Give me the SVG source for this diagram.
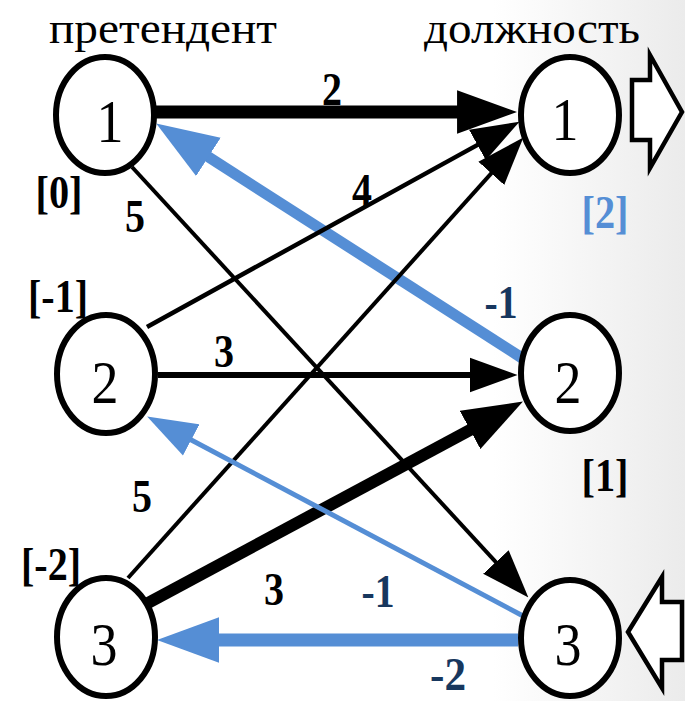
<svg xmlns="http://www.w3.org/2000/svg" width="685" height="701" viewBox="0 0 685 701">
<defs>
<linearGradient id="bg" x1="0" y1="0" x2="1" y2="0">
<stop offset="0" stop-color="#ffffff"/>
<stop offset="0.72" stop-color="#ffffff"/>
<stop offset="1" stop-color="#ebebeb"/>
</linearGradient>
<marker id="bigK" markerUnits="userSpaceOnUse" markerWidth="60" markerHeight="44" refX="28" refY="21" orient="auto" viewBox="0 0 58 42">
<path d="M0,0 L58,21 L0,42 z" fill="#000"/>
</marker>
<marker id="smallK" markerUnits="userSpaceOnUse" markerWidth="48" markerHeight="36" refX="22" refY="17" orient="auto" viewBox="0 0 47 34">
<path d="M0,0 L47,17 L0,34 z" fill="#000"/>
</marker>
<marker id="bigB" markerUnits="userSpaceOnUse" markerWidth="62" markerHeight="46" refX="30" refY="22" orient="auto" viewBox="0 0 60 44">
<path d="M0,0 L60,22 L0,44 z" fill="#558ed5"/>
</marker>
<marker id="smallB" markerUnits="userSpaceOnUse" markerWidth="50" markerHeight="36" refX="23" refY="17" orient="auto" viewBox="0 0 48 34">
<path d="M0,0 L48,17 L0,34 z" fill="#558ed5"/>
</marker>
</defs>
<style>
text{font-family:'Liberation Serif','Times New Roman',serif}
.node ellipse{fill:#fff;stroke:#000;stroke-width:6}
.num{font-size:62px;text-anchor:middle;fill:#000}
.title{font-size:44px;text-anchor:middle;fill:#000}
.lbl{font-size:46px;font-weight:bold;text-anchor:middle;fill:#000}
.neg{fill:#17375e}
.pot{font-size:46px;font-weight:bold;text-anchor:middle;fill:#000}
.blue{fill:#558ed5}
.k{stroke:#000;fill:none}
.b{stroke:#558ed5;fill:none}
.blk{fill:#fff;stroke:#000;stroke-width:4.5;stroke-linejoin:miter}
</style>
<rect x="0" y="0" width="685" height="701" fill="url(#bg)"/>

<g id="titles">
<text class="title" x="163" y="43" textLength="228" lengthAdjust="spacingAndGlyphs">претендент</text>
<text class="title" x="532" y="43" textLength="216" lengthAdjust="spacingAndGlyphs">должность</text>
</g>

<g id="connectors">
<path class="b" d="M522,358 L182.3,140.2" stroke-width="11" marker-end="url(#bigB)"/>
<path class="b" d="M518,640 L188,640" stroke-width="13" marker-end="url(#bigB)"/>
<path class="k" d="M155,112 L486,112" stroke-width="13" marker-end="url(#bigK)"/>
<path class="k" d="M132,167 L511.1,578.6" stroke-width="4" marker-end="url(#smallK)"/>
<path class="k" d="M147,327 L497.1,134.1" stroke-width="4.5" marker-end="url(#smallK)"/>
<path class="k" d="M128,578 L506.3,156.6" stroke-width="4" marker-end="url(#smallK)"/>
<path class="k" d="M158,375 L492,375" stroke-width="6" marker-end="url(#smallK)"/>
<path class="k" d="M148,603 L495.6,416.2" stroke-width="12" marker-end="url(#bigK)"/>
<path class="b" d="M525,617 L170.1,428.7" stroke-width="5" marker-end="url(#smallB)"/>
</g>

<g id="edge-labels">
<text class="lbl" x="332" y="105" textLength="20" lengthAdjust="spacingAndGlyphs">2</text>
<text class="lbl" x="362" y="206" textLength="20" lengthAdjust="spacingAndGlyphs">4</text>
<text class="lbl" x="135" y="232" textLength="20" lengthAdjust="spacingAndGlyphs">5</text>
<text class="lbl" x="224" y="367" textLength="20" lengthAdjust="spacingAndGlyphs">3</text>
<text class="lbl" x="142" y="512" textLength="20" lengthAdjust="spacingAndGlyphs">5</text>
<text class="lbl" x="274" y="605" textLength="20" lengthAdjust="spacingAndGlyphs">3</text>
<text class="lbl neg" x="501" y="318" textLength="33" lengthAdjust="spacingAndGlyphs">-1</text>
<text class="lbl neg" x="378" y="607" textLength="33" lengthAdjust="spacingAndGlyphs">-1</text>
<text class="lbl neg" x="448" y="690" textLength="36" lengthAdjust="spacingAndGlyphs">-2</text>
</g>

<g id="L1" class="node">
<ellipse cx="105" cy="115" rx="49" ry="58"/>
<text class="num" x="110" y="142" textLength="27" lengthAdjust="spacingAndGlyphs">1</text>
<text class="pot" x="59" y="208" textLength="47" lengthAdjust="spacingAndGlyphs">[0]</text>
</g>
<g id="L2" class="node">
<ellipse cx="106" cy="374" rx="49" ry="59"/>
<text class="num" x="105" y="403" textLength="27" lengthAdjust="spacingAndGlyphs">2</text>
<text class="pot" x="58" y="312" textLength="60" lengthAdjust="spacingAndGlyphs">[-1]</text>
</g>
<g id="L3" class="node">
<ellipse cx="106" cy="637" rx="49" ry="59"/>
<text class="num" x="104" y="665" textLength="27" lengthAdjust="spacingAndGlyphs">3</text>
<text class="pot" x="51" y="580" textLength="60" lengthAdjust="spacingAndGlyphs">[-2]</text>
</g>
<g id="R1" class="node">
<ellipse cx="570" cy="115" rx="49" ry="58"/>
<text class="num" x="565" y="140" textLength="27" lengthAdjust="spacingAndGlyphs">1</text>
<text class="pot blue" x="605" y="228" textLength="47" lengthAdjust="spacingAndGlyphs">[2]</text>
</g>
<g id="R2" class="node">
<ellipse cx="570" cy="373" rx="49" ry="58"/>
<text class="num" x="568" y="403" textLength="27" lengthAdjust="spacingAndGlyphs">2</text>
<text class="pot" x="605" y="491" textLength="47" lengthAdjust="spacingAndGlyphs">[1]</text>
</g>
<g id="R3" class="node">
<ellipse cx="570" cy="638" rx="49" ry="58"/>
<text class="num" x="568" y="665" textLength="27" lengthAdjust="spacingAndGlyphs">3</text>
</g>

<g id="out-arrow">
<polygon class="blk" points="632,80 650,80 650,55 682,112 650,168 650,140 632,140"/>
</g>
<g id="in-arrow">
<polygon class="blk" points="628,632 662,577 662,602 682,602 682,660 662,660 662,688"/>
</g>
</svg>
